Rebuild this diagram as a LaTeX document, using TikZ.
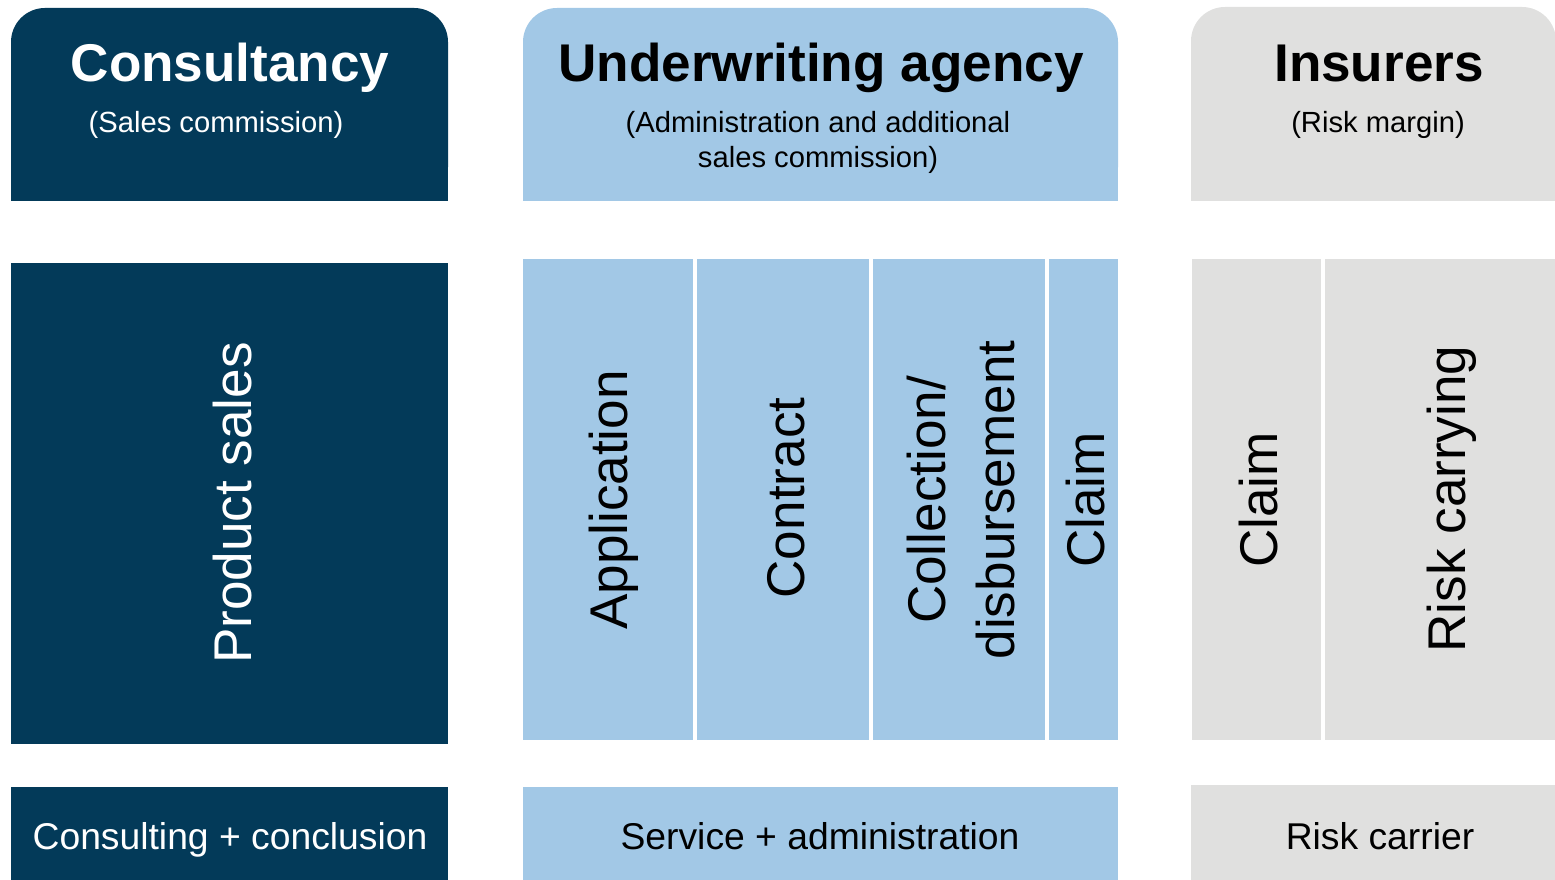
\documentclass[tikz,border=0pt]{standalone}
\usepackage{fontspec}
\setmainfont{Liberation Sans}
\usetikzlibrary{positioning}

\definecolor{navy}{RGB}{3,58,89}
\definecolor{lblue}{RGB}{162,200,230}
\definecolor{lgray}{RGB}{224,224,223}

\tikzset{
    head/.style={anchor=base, font=\fontsize{15.1}{18}\selectfont\bfseries},
    sub/.style={anchor=base, align=center, font=\fontsize{8.3}{10}\selectfont},
    vert/.style={anchor=base, rotate=90, font=\fontsize{15.1}{19.6}\selectfont},
    foot/.style={anchor=base, font=\fontsize{10.6}{13}\selectfont},
}

\begin{document}
\begin{tikzpicture}[x=0.01cm, y=-0.01cm]
\useasboundingbox (0,0) rectangle (1555,880);

% header boxes, round on top only
\foreach \a/\b/\c/\t in {11/448/navy/8, 523/1118/lblue/8, 1191/1556/lgray/7}
{
    \fill[\c, rounded corners=0.34cm] (\a,\t) rectangle (\b,201);
    \fill[\c] (\a,100) rectangle (\b,201);
}

% middle columns
\fill[navy] (11,263) rectangle (448,744);
\foreach \a/\b in {523/693, 697/869, 873/1045, 1049/1118}
    \fill[lblue] (\a,259) rectangle (\b,740);
\foreach \a/\b in {1192/1321, 1325/1556}
    \fill[lgray] (\a,259) rectangle (\b,740);

% bottom boxes
\fill[navy] (11,787) rectangle (448,880);
\fill[lblue] (523,787) rectangle (1118,880);
\fill[lgray] (1191,785) rectangle (1556,880);

% texts
\node[head, white] (constitle) at (230,82) {Consultancy};
\node[sub, white] (conssub) at (216,133) {(Sales commission)};
\node[head] (uwtitle) at (821,82) {Underwriting agency};
\node[sub] (uwsub) at (818,168) {(Administration and additional\\sales commission)};
\node[head] (institle) at (1379,82) {Insurers};
\node[sub] (inssub) at (1378,133) {(Risk margin)};

\node[vert, white] (prodsales) at (251,503) {Product sales};
\node[vert] (appl) at (627,500) {Application};
\node[vert] (contr) at (804,498) {Contract};
\node[vert, anchor=center, align=center] (collect) at (961,500) {Collection/\\disbursement};
\node[vert] (uwclaim) at (1104,500) {Claim};
\node[vert] (insclaim) at (1277,500) {Claim};
\node[vert] (riskcarry) at (1465,499) {Risk carrying};

\node[foot, white] (consult) at (230,849) {Consulting + conclusion};
\node[foot] (service) at (820,849) {Service + administration};
\node[foot] (carrier) at (1380,849) {Risk carrier};

\end{tikzpicture}
\end{document}
